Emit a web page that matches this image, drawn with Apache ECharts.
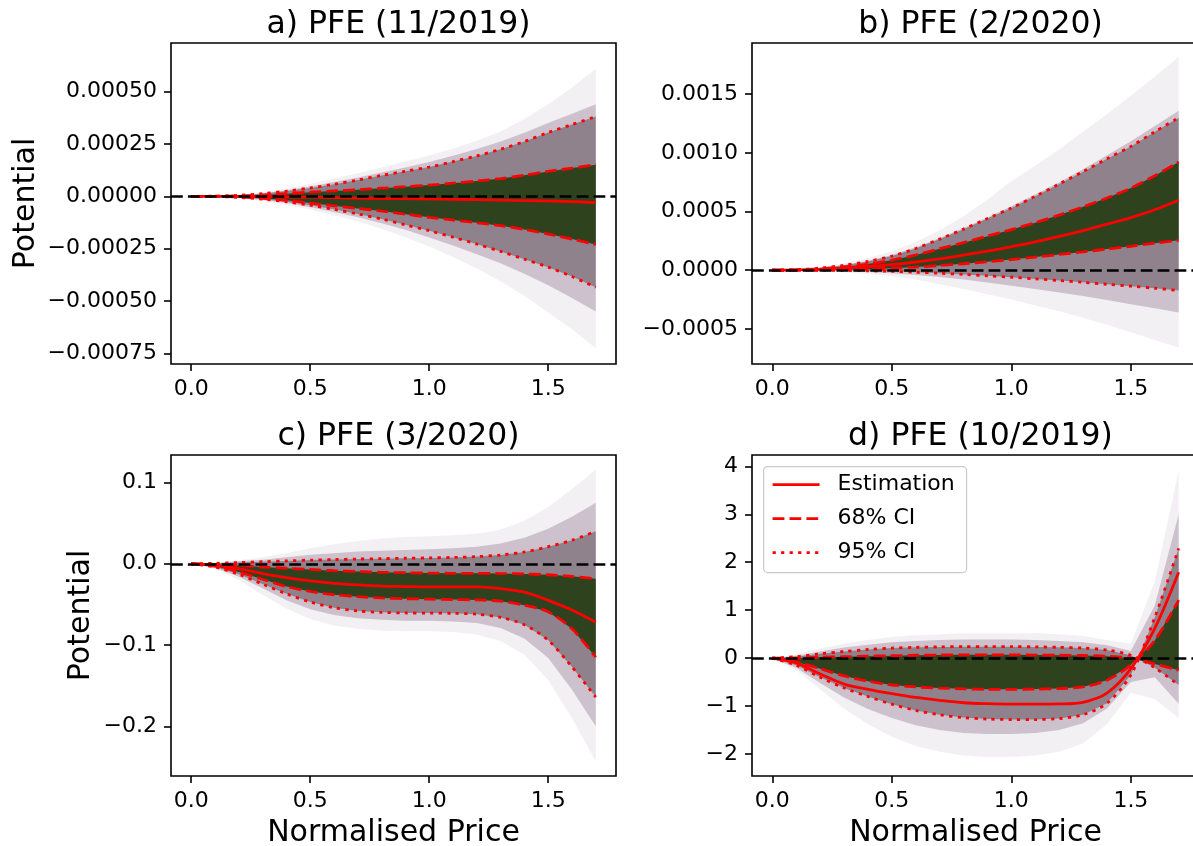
<!DOCTYPE html>
<html>
<head>
<meta charset="utf-8">
<script src="https://cdn.jsdelivr.net/npm/echarts@6/dist/echarts.min.js"></script>
<style>
html,body{margin:0;padding:0;background:#fff;}
#chart{width:1193px;height:846px;}
</style>
</head>
<body>
<div id="chart"></div>
<script>
// ---------- shared x grid and ticks ----------
const xs = [0, 0.1, 0.2, 0.3, 0.4, 0.5, 0.6, 0.7, 0.8, 0.9, 1.0, 1.1, 1.2, 1.3, 1.4, 1.5, 1.6, 1.7];
const xTicks = [0, 0.5, 1.0, 1.5];
const xTickLabels = ['0.0', '0.5', '1.0', '1.5'];
const legendLabels = ['Estimation', '68% CI', '95% CI'];
const xAxisTitle = 'Normalised Price';
const yAxisTitle = 'Potential';

// ---------- panel a) PFE (11/2019) ----------
const aTitle = 'a) PFE (11/2019)';
const aEst   = [0, 0, 0, -1e-6, -2e-6, -4e-6, -6e-6, -8e-6, -1.0e-5, -1.1e-5, -1.2e-5, -1.4e-5, -1.6e-5, -1.8e-5, -2.0e-5, -2.2e-5, -2.5e-5, -3.0e-5];
const aCi68Hi = [0, 5e-7, 2e-6, 6e-6, 1.3e-5, 2.0e-5, 2.6e-5, 3.2e-5, 3.9e-5, 4.6e-5, 5.4e-5, 6.3e-5, 7.3e-5, 8.5e-5, 1.01e-4, 1.19e-4, 1.35e-4, 1.51e-4];
const aCi68Lo = [0, -5e-7, -3e-6, -9e-6, -1.9e-5, -3.2e-5, -4.5e-5, -5.8e-5, -7.0e-5, -8.5e-5, -1.0e-4, -1.13e-4, -1.26e-4, -1.40e-4, -1.58e-4, -1.80e-4, -2.04e-4, -2.30e-4];
const aCi95Hi = [0, 1e-6, 5e-6, 1.3e-5, 2.5e-5, 4.0e-5, 5.8e-5, 7.8e-5, 1.0e-4, 1.2e-4, 1.4e-4, 1.66e-4, 1.93e-4, 2.25e-4, 2.62e-4, 3.05e-4, 3.43e-4, 3.81e-4];
const aCi95Lo = [0, -1e-6, -5e-6, -1.3e-5, -2.6e-5, -4.2e-5, -6.2e-5, -8.4e-5, -1.08e-4, -1.36e-4, -1.64e-4, -1.95e-4, -2.28e-4, -2.63e-4, -3.0e-4, -3.38e-4, -3.83e-4, -4.34e-4];
const aMidHi = [0, 1e-6, 6e-6, 1.5e-5, 2.9e-5, 4.7e-5, 6.8e-5, 9.0e-5, 1.14e-4, 1.38e-4, 1.64e-4, 1.94e-4, 2.26e-4, 2.62e-4, 3.04e-4, 3.5e-4, 3.95e-4, 4.4e-4];
const aMidLo = [0, -1.5e-6, -7e-6, -1.7e-5, -3.2e-5, -5.2e-5, -7.5e-5, -1.0e-4, -1.28e-4, -1.6e-4, -1.96e-4, -2.35e-4, -2.76e-4, -3.2e-4, -3.7e-4, -4.25e-4, -4.85e-4, -5.5e-4];
const aFanHi = [0, 2e-6, 8e-6, 1.9e-5, 3.6e-5, 6.0e-5, 8.5e-5, 1.1e-4, 1.38e-4, 1.66e-4, 1.95e-4, 2.27e-4, 2.66e-4, 3.1e-4, 3.7e-4, 4.4e-4, 5.2e-4, 6.1e-4];
const aFanLo = [0, -2e-6, -9e-6, -2.2e-5, -4.0e-5, -6.3e-5, -9.0e-5, -1.2e-4, -1.55e-4, -1.95e-4, -2.4e-4, -2.9e-4, -3.45e-4, -4.05e-4, -4.75e-4, -5.55e-4, -6.35e-4, -7.25e-4];
const aYTicks = [-0.00075, -0.0005, -0.00025, 0, 0.00025, 0.0005];
const aYTickLabels = ['\u22120.00075', '\u22120.00050', '\u22120.00025', '0.00000', '0.00025', '0.00050'];

// ---------- panel b) PFE (2/2020) ----------
const bTitle = 'b) PFE (2/2020)';
const bEst   = [0, 2e-6, 8e-6, 1.8e-5, 3.2e-5, 4.8e-5, 7.0e-5, 9.7e-5, 1.28e-4, 1.62e-4, 2.0e-4, 2.42e-4, 2.88e-4, 3.38e-4, 3.92e-4, 4.48e-4, 5.15e-4, 5.96e-4];
const bCi68Hi = [0, 3e-6, 1.2e-5, 2.8e-5, 5.2e-5, 8.5e-5, 1.3e-4, 1.83e-4, 2.35e-4, 2.9e-4, 3.46e-4, 4.05e-4, 4.7e-4, 5.4e-4, 6.15e-4, 7.0e-4, 8.05e-4, 9.22e-4];
const bCi68Lo = [0, 5e-7, 2e-6, 5e-6, 1.0e-5, 1.7e-5, 2.7e-5, 4.0e-5, 5.5e-5, 7.2e-5, 9.1e-5, 1.12e-4, 1.34e-4, 1.56e-4, 1.8e-4, 2.04e-4, 2.3e-4, 2.55e-4];
const bCi95Hi = [0, 4e-6, 1.8e-5, 4.2e-5, 7.5e-5, 1.2e-4, 1.85e-4, 2.65e-4, 3.5e-4, 4.4e-4, 5.3e-4, 6.3e-4, 7.35e-4, 8.4e-4, 9.5e-4, 1.055e-3, 1.18e-3, 1.3e-3];
const bCi95Lo = [0, 0, -1e-6, -2e-6, -5e-6, -1.0e-5, -1.7e-5, -2.6e-5, -3.6e-5, -4.8e-5, -6.0e-5, -7.4e-5, -8.8e-5, -1.03e-4, -1.2e-4, -1.36e-4, -1.54e-4, -1.73e-4];
const bMidHi = [0, 5e-6, 2e-5, 4.5e-5, 8e-5, 1.3e-4, 1.95e-4, 2.75e-4, 3.6e-4, 4.5e-4, 5.45e-4, 6.45e-4, 7.5e-4, 8.6e-4, 9.8e-4, 1.1e-3, 1.23e-3, 1.36e-3];
const bMidLo = [0, -1e-6, -3e-6, -8e-6, -1.5e-5, -2.5e-5, -4.0e-5, -5.8e-5, -8.0e-5, -1.05e-4, -1.32e-4, -1.6e-4, -1.9e-4, -2.2e-4, -2.55e-4, -2.9e-4, -3.25e-4, -3.6e-4];
const bFanHi = [0, 6e-6, 2.5e-5, 6e-5, 1.05e-4, 1.6e-4, 2.4e-4, 3.4e-4, 4.6e-4, 6.0e-4, 7.6e-4, 8.9e-4, 1.03e-3, 1.18e-3, 1.33e-3, 1.49e-3, 1.65e-3, 1.82e-3];
const bFanLo = [0, -2e-6, -8e-6, -1.8e-5, -3.2e-5, -5.0e-5, -8.0e-5, -1.2e-4, -1.6e-4, -2.05e-4, -2.5e-4, -3.0e-4, -3.5e-4, -4.05e-4, -4.65e-4, -5.3e-4, -5.95e-4, -6.6e-4];
const bYTicks = [-0.0005, 0, 0.0005, 0.001, 0.0015];
const bYTickLabels = ['\u22120.0005', '0.0000', '0.0005', '0.0010', '0.0015'];

// ---------- panel c) PFE (3/2020) ----------
const cTitle = 'c) PFE (3/2020)';
const cEst   = [0, -0.002, -0.006, -0.012, -0.017, -0.021, -0.024, -0.026, -0.0275, -0.028, -0.0285, -0.0285, -0.0285, -0.0305, -0.035, -0.045, -0.057, -0.072];
const cCi68Hi = [0, -0.001, -0.002, -0.004, -0.0055, -0.007, -0.0085, -0.0095, -0.0105, -0.011, -0.0115, -0.0117, -0.0118, -0.012, -0.0125, -0.0135, -0.0155, -0.0185];
const cCi68Lo = [0, -0.003, -0.01, -0.019, -0.028, -0.034, -0.038, -0.0405, -0.042, -0.043, -0.0435, -0.044, -0.0445, -0.046, -0.051, -0.059, -0.08, -0.115];
const cCi95Hi = [0, 0.0005, 0.0015, 0.0025, 0.0035, 0.0045, 0.0052, 0.0058, 0.0063, 0.0068, 0.0072, 0.0078, 0.0088, 0.0108, 0.0145, 0.021, 0.029, 0.04];
const cCi95Lo = [0, -0.004, -0.013, -0.025, -0.037, -0.047, -0.054, -0.058, -0.0598, -0.0605, -0.0607, -0.061, -0.062, -0.066, -0.075, -0.094, -0.127, -0.164];
const cMidHi = [0, 0.001, 0.003, 0.005, 0.008, 0.011, 0.013, 0.015, 0.016, 0.017, 0.018, 0.019, 0.021, 0.025, 0.032, 0.043, 0.058, 0.075];
const cMidLo = [0, -0.005, -0.016, -0.03, -0.045, -0.056, -0.063, -0.067, -0.069, -0.07, -0.07, -0.071, -0.073, -0.079, -0.092, -0.116, -0.155, -0.2];
const cFanHi = [0, 0.001, 0.004, 0.008, 0.013, 0.019, 0.024, 0.028, 0.031, 0.033, 0.034, 0.035, 0.037, 0.042, 0.053, 0.07, 0.092, 0.116];
const cFanLo = [0, -0.006, -0.02, -0.038, -0.055, -0.068, -0.076, -0.08, -0.082, -0.083, -0.083, -0.084, -0.087, -0.095, -0.112, -0.143, -0.19, -0.243];
const cYTicks = [-0.2, -0.1, 0, 0.1];
const cYTickLabels = ['\u22120.2', '\u22120.1', '0.0', '0.1'];

// ---------- panel d) PFE (10/2019) ----------
const dTitle = 'd) PFE (10/2019)';
const dEst   = [0, -0.1, -0.33, -0.54, -0.65, -0.74, -0.82, -0.88, -0.93, -0.95, -0.96, -0.96, -0.955, -0.92, -0.73, -0.22, 0.62, 1.79];
const dCi68Hi = [0, 0, 0.02, 0.03, 0.04, 0.05, 0.06, 0.065, 0.07, 0.07, 0.07, 0.065, 0.06, 0.055, 0.04, 0.0, -0.12, -0.25];
const dCi68Lo = [0, -0.08, -0.22, -0.37, -0.48, -0.56, -0.6, -0.625, -0.64, -0.65, -0.65, -0.645, -0.635, -0.6, -0.46, -0.14, 0.37, 1.21];
const dCi95Hi = [0, 0.03, 0.09, 0.14, 0.18, 0.21, 0.225, 0.235, 0.24, 0.24, 0.24, 0.235, 0.225, 0.21, 0.17, 0.06, -0.2, -0.56];
const dCi95Lo = [0, -0.15, -0.4, -0.62, -0.8, -0.96, -1.09, -1.18, -1.24, -1.27, -1.28, -1.28, -1.26, -1.18, -0.94, -0.35, 0.85, 2.29];
const dMidHi = [0, 0.05, 0.14, 0.22, 0.28, 0.33, 0.36, 0.38, 0.39, 0.39, 0.39, 0.38, 0.36, 0.33, 0.27, 0.15, 1.1, 3.0];
const dMidLo = [0, -0.2, -0.52, -0.82, -1.06, -1.25, -1.4, -1.5, -1.56, -1.58, -1.58, -1.56, -1.5, -1.36, -1.05, -0.5, -0.4, -0.95];
const dFanHi = [0, 0.08, 0.2, 0.3, 0.38, 0.44, 0.48, 0.5, 0.52, 0.52, 0.52, 0.52, 0.5, 0.46, 0.38, 0.3, 1.6, 3.9];
const dFanLo = [0, -0.25, -0.65, -1.05, -1.38, -1.64, -1.83, -1.95, -2.03, -2.06, -2.06, -2.03, -1.95, -1.78, -1.38, -0.72, -0.85, -1.25];
const dYTicks = [-2, -1, 0, 1, 2, 3, 4];
const dYTickLabels = ['\u22122', '\u22121', '0', '1', '2', '3', '4'];

// ---------- layout / styling ----------
const FONT = 'DejaVu Sans';
const panels = [
  {title: aTitle, est: aEst, c68: [aCi68Hi, aCi68Lo], c95: [aCi95Hi, aCi95Lo], mid: [aMidHi, aMidLo], fan: [aFanHi, aFanLo],
   yTicks: aYTicks, yTickLabels: aYTickLabels, yMin: -0.0008006, yMax: 0.0007324,
   grid: {left: 171, top: 43, width: 445, height: 321}, titleTop: 4, yName: yAxisTitle, yNameGap: 130, xName: ''},
  {title: bTitle, est: bEst, c68: [bCi68Hi, bCi68Lo], c95: [bCi95Hi, bCi95Lo], mid: [bMidHi, bMidLo], fan: [bFanHi, bFanLo],
   yTicks: bYTicks, yTickLabels: bYTickLabels, yMin: -0.0007996, yMax: 0.0019367,
   grid: {left: 752, top: 43, width: 447, height: 321}, titleTop: 4, yName: '', xName: ''},
  {title: cTitle, est: cEst, c68: [cCi68Hi, cCi68Lo], c95: [cCi95Hi, cCi95Lo], mid: [cMidHi, cMidLo], fan: [cFanHi, cFanLo],
   yTicks: cYTicks, yTickLabels: cYTickLabels, yMin: -0.26112, yMax: 0.13383,
   grid: {left: 171, top: 455, width: 445, height: 321}, titleTop: 416, yName: yAxisTitle, yNameGap: 75, xName: xAxisTitle},
  {title: dTitle, est: dEst, c68: [dCi68Hi, dCi68Lo], c95: [dCi95Hi, dCi95Lo], mid: [dMidHi, dMidLo], fan: [dFanHi, dFanLo],
   yTicks: dYTicks, yTickLabels: dYTickLabels, yMin: -2.4575, yMax: 4.236,
   grid: {left: 752, top: 455, width: 447, height: 321}, titleTop: 416, yName: '', xName: xAxisTitle}
];

const bandColors = {
  fan: 'rgba(172,162,175,0.16)',
  mid: 'rgba(138,112,140,0.36)',
  c95: 'rgba(92,78,88,0.55)',
  c68: 'rgba(32,56,12,0.86)'
};
const RED = '#ff0000';
const DASH = [11.8, 5.1];
const DOT = [3.2, 5.3];

function pairs(ys) { return xs.map((x, i) => [x, ys[i]]); }
function labelFor(ticks, labels) {
  return function (v) {
    for (let i = 0; i < ticks.length; i++) if (Math.abs(ticks[i] - v) < 1e-9) return labels[i];
    return '';
  };
}
function bandSeries(gi, hi, lo, key, z) {
  const color = bandColors[key];
  return {
    type: 'custom', xAxisIndex: gi, yAxisIndex: gi, silent: true, z: z, clip: true,
    data: [[xs[0], lo[0]]],
    renderItem: function (params, api) {
      const pts = [];
      for (let i = 0; i < xs.length; i++) pts.push(api.coord([xs[i], hi[i]]));
      for (let i = xs.length - 1; i >= 0; i--) pts.push(api.coord([xs[i], lo[i]]));
      return {type: 'polygon', shape: {points: pts}, style: {fill: color}};
    }
  };
}

const grids = [], xAxes = [], yAxes = [], titles = [], series = [];

panels.forEach((p, gi) => {
  grids.push(Object.assign({show: true, borderColor: '#000', borderWidth: 1.6, backgroundColor: 'transparent',
    containLabel: false, outerBoundsMode: 'none'}, p.grid));
  titles.push({text: p.title, left: p.grid.left + p.grid.width / 2, top: p.titleTop, textAlign: 'center',
    textStyle: {fontFamily: FONT, fontSize: 31.5, fontWeight: 'normal', color: '#000'}});
  xAxes.push({type: 'value', gridIndex: gi, min: -0.085, max: 1.785, position: 'bottom',
    axisLine: {show: false, onZero: false}, splitLine: {show: false},
    axisTick: {show: true, customValues: xTicks, length: 7, lineStyle: {color: '#000', width: 1.6}},
    axisLabel: {show: true, customValues: xTicks, formatter: labelFor(xTicks, xTickLabels), margin: 14,
      fontFamily: FONT, fontSize: 22, color: '#000'},
    name: p.xName, nameLocation: 'middle', nameGap: 42,
    nameTextStyle: {fontFamily: FONT, fontSize: 30, color: '#000'}});
  yAxes.push({type: 'value', gridIndex: gi, min: p.yMin, max: p.yMax, position: 'left',
    axisLine: {show: false, onZero: false}, splitLine: {show: false},
    axisTick: {show: true, customValues: p.yTicks, length: 7, lineStyle: {color: '#000', width: 1.6}},
    axisLabel: {show: true, customValues: p.yTicks, formatter: labelFor(p.yTicks, p.yTickLabels), margin: 14,
      fontFamily: FONT, fontSize: 22, color: '#000'},
    name: p.yName, nameLocation: 'middle', nameGap: p.yNameGap || 50,
    nameTextStyle: {fontFamily: FONT, fontSize: 30, color: '#000'}});

  // sample-fan density bands
  series.push(bandSeries(gi, p.fan[0], p.fan[1], 'fan', 1));
  series.push(bandSeries(gi, p.mid[0], p.mid[1], 'mid', 1.1));
  series.push(bandSeries(gi, p.c95[0], p.c95[1], 'c95', 1.2));
  series.push(bandSeries(gi, p.c68[0], p.c68[1], 'c68', 1.3));

  // zero reference line
  series.push({type: 'line', xAxisIndex: gi, yAxisIndex: gi, data: [], silent: true, z: 3,
    markLine: {silent: true, symbol: ['none', 'none'], label: {show: false}, animation: false,
      lineStyle: {color: '#000', width: 2.6, type: DASH}, data: [{yAxis: 0}]}});

  // red estimation / CI lines
  const redLine = (name, arr, type) => ({type: 'line', name: name, xAxisIndex: gi, yAxisIndex: gi,
    data: pairs(arr), smooth: 0.3, symbol: 'none', silent: true, z: 4,
    lineStyle: {color: RED, width: 2.8, type: type, cap: 'butt'}});
  series.push(redLine(legendLabels[2], p.c95[0], DOT));
  series.push(redLine(legendLabels[2], p.c95[1], DOT));
  series.push(redLine(legendLabels[1], p.c68[0], DASH));
  series.push(redLine(legendLabels[1], p.c68[1], DASH));
  series.push(redLine(legendLabels[0], p.est, 'solid'));
});

// legend drawn inside panel d (upper left)
const legendGraphic = {
  type: 'group', left: 763, top: 466, z: 100,
  children: [
    {type: 'rect', shape: {x: 0, y: 0, width: 203, height: 106, r: 4},
      style: {fill: 'rgba(255,255,255,0.8)', stroke: '#cccccc', lineWidth: 1.2}},
    {type: 'line', shape: {x1: 9, y1: 18, x2: 56, y2: 18}, style: {stroke: RED, lineWidth: 2.8}},
    {type: 'line', shape: {x1: 9, y1: 52, x2: 56, y2: 52}, style: {stroke: RED, lineWidth: 2.8, lineDash: DASH}},
    {type: 'line', shape: {x1: 9, y1: 86, x2: 56, y2: 86}, style: {stroke: RED, lineWidth: 2.8, lineDash: DOT}},
    {type: 'text', x: 74, y: 18, style: {text: legendLabels[0], fill: '#000', fontFamily: FONT, fontSize: 22, verticalAlign: 'middle'}},
    {type: 'text', x: 74, y: 52, style: {text: legendLabels[1], fill: '#000', fontFamily: FONT, fontSize: 22, verticalAlign: 'middle'}},
    {type: 'text', x: 74, y: 86, style: {text: legendLabels[2], fill: '#000', fontFamily: FONT, fontSize: 22, verticalAlign: 'middle'}}
  ]
};

const chart = echarts.init(document.getElementById('chart'), null, {renderer: 'canvas'});
chart.setOption({
  animation: false,
  backgroundColor: '#ffffff',
  textStyle: {fontFamily: FONT},
  title: titles,
  grid: grids,
  xAxis: xAxes,
  yAxis: yAxes,
  series: series,
  graphic: [legendGraphic]
});
</script>
</body>
</html>
